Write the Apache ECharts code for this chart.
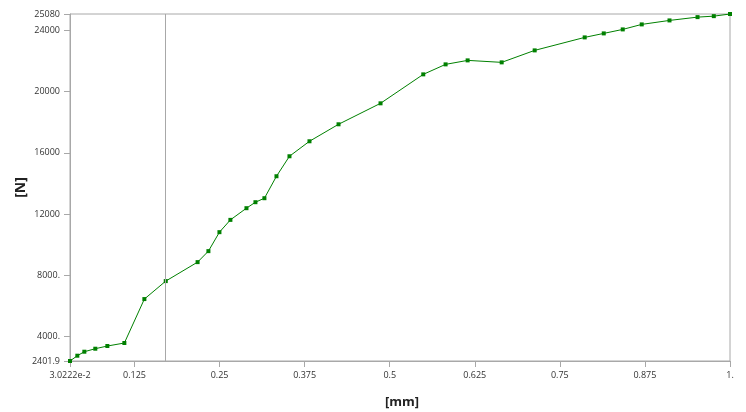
<!DOCTYPE html>
<html>
<head>
<meta charset="utf-8">
<script src="https://cdn.jsdelivr.net/npm/echarts@6/dist/echarts.min.js"></script>
<style>html,body{margin:0;padding:0;background:#fff}#c{width:746px;height:412px}</style>
</head>
<body>
<div id="c"></div>
<script>
const xValues = [0.0302, 0.0410, 0.0513, 0.0674, 0.0851, 0.1101, 0.1395, 0.1709, 0.2177, 0.2336,
  0.2498, 0.2659, 0.2895, 0.3027, 0.3159, 0.3336, 0.3527, 0.3821, 0.4248, 0.4865,
  0.5493, 0.5821, 0.6145, 0.6645, 0.7130, 0.7865, 0.8145, 0.8424, 0.8703, 0.9111,
  0.9523, 0.9762, 1.0];
const yValues = [2401.9, 2748, 3009, 3205, 3381, 3577, 6449, 7624, 8864, 9582,
  10822, 11625, 12389, 12780, 13041, 14477, 15783, 16762, 17872, 19242,
  21135, 21788, 22049, 21919, 22702, 23551, 23812, 24073, 24400, 24660,
  24876, 24940, 25080];
const xTickValues = [0.030222, 0.125, 0.25, 0.375, 0.5, 0.625, 0.75, 0.875, 1.0];
const xTickLabels = ['3.0222e-2', '0.125', '0.25', '0.375', '0.5', '0.625', '0.75', '0.875', '1.'];
const yTickValues = [2401.9, 4000, 8000, 12000, 16000, 20000, 24000, 25080];
const yTickLabels = ['2401.9', '4000.', '8000.', '12000', '16000', '20000', '24000', '25080'];
const cursorX = [0.1704];

const data = xValues.map((x, i) => [x, yValues[i]]);
const gray = '#a8a8a8';
const font = 'Open Sans';

const chart = echarts.init(document.getElementById('c'));
chart.setOption({
  animation: false,
  grid: { left: 70, right: 16, top: 14, bottom: 51, show: true, borderColor: gray, borderWidth: 1,
    containLabel: false, outerBoundsMode: 'none' },
  xAxis: {
    type: 'value', min: xTickValues[0], max: 1.0,
    name: '[mm]', nameLocation: 'middle', nameGap: 35, nameMoveOverlap: false,
    nameTextStyle: { fontFamily: font, fontWeight: 'bold', fontSize: 13, color: '#222', padding: [0, 0, 0, 4] },
    axisLine: { lineStyle: { color: gray } },
    axisTick: { show: true, length: 6, customValues: xTickValues, lineStyle: { color: gray } },
    axisLabel: { customValues: xTickValues, margin: 10, fontFamily: font, fontSize: 9, color: '#333',
      formatter: v => { const i = xTickValues.findIndex(t => Math.abs(t - v) < 1e-6); return i >= 0 ? xTickLabels[i] : ''; } },
    splitLine: { show: false }
  },
  yAxis: {
    type: 'value', min: yTickValues[0], max: yTickValues[yTickValues.length - 1],
    name: '[N]', nameLocation: 'middle', nameGap: 42, nameRotate: 90, nameMoveOverlap: false,
    nameTextStyle: { fontFamily: font, fontWeight: 'bold', fontSize: 14, color: '#222' },
    axisLine: { show: true, lineStyle: { color: gray } },
    axisTick: { show: true, length: 6, customValues: yTickValues, lineStyle: { color: gray } },
    axisLabel: { customValues: yTickValues, margin: 10, fontFamily: font, fontSize: 9, color: '#333',
      formatter: v => { const i = yTickValues.findIndex(t => Math.abs(t - v) < 1e-3); return i >= 0 ? yTickLabels[i] : ''; } },
    splitLine: { show: false }
  },
  series: [{
    type: 'line', data: data,
    lineStyle: { color: '#008000', width: 1 },
    itemStyle: { color: '#008000' },
    symbol: 'rect', symbolSize: 4, showSymbol: true,
    markLine: {
      silent: true, symbol: 'none', label: { show: false },
      lineStyle: { color: gray, type: 'solid', width: 1 },
      data: cursorX.map(x => ({ xAxis: x }))
    }
  }]
});
</script>
</body>
</html>
